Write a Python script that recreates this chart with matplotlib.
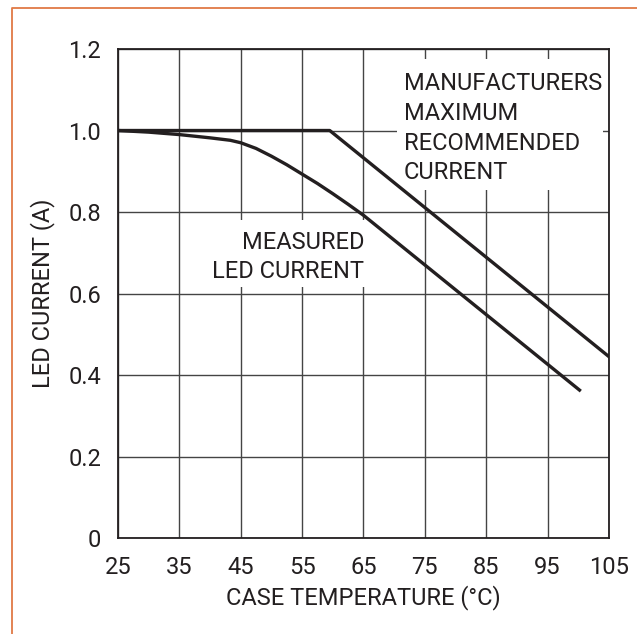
import matplotlib.pyplot as plt
from matplotlib.lines import Line2D
from matplotlib.patches import Rectangle

# case temperature (C) vs LED current (A)
max_temp = [25, 59.5, 105]
max_current = [1.0, 1.0, 0.445]

meas_temp = [25, 30, 35, 40, 43.3, 45, 47.5, 50, 52.5, 55, 57.5, 60, 62.5, 65, 100.2]
meas_current = [1.0, 0.996, 0.990, 0.982, 0.976, 0.970, 0.956, 0.937, 0.916, 0.893, 0.870, 0.845, 0.819, 0.792, 0.363]

xticks = [25, 35, 45, 55, 65, 75, 85, 95, 105]
yticks = [0, 0.2, 0.4, 0.6, 0.8, 1.0, 1.2]
ytick_labels = ['0', '0.2', '0.4', '0.6', '0.8', '1.0', '1.2']

max_label = ['MANUFACTURERS', 'MAXIMUM', 'RECOMMENDED', 'CURRENT']
meas_label = ['MEASURED', 'LED CURRENT']

plt.rcParams['font.family'] = ['Roboto', 'DejaVu Sans']
ink = '#231f20'
fs = 17

fig = plt.figure(figsize=(6.37, 6.34), dpi=100)
ax = fig.add_axes([0.1852, 0.1514, 0.956 - 0.1852, 0.9227 - 0.1514])

ax.plot(max_temp, max_current, color=ink, lw=2.4, zorder=3)
ax.plot(meas_temp, meas_current, color=ink, lw=2.4, zorder=3)

ax.set_xlim(25, 105)
ax.set_ylim(0, 1.2)
ax.set_xticks(xticks)
ax.set_yticks(yticks)
ax.set_yticklabels(ytick_labels)
ax.tick_params(length=0, labelsize=fs, colors=ink)
ax.tick_params(axis='x', pad=13)
ax.tick_params(axis='y', pad=12)
ax.grid(True, color='#444444', lw=1.0)
ax.set_axisbelow(True)
for s in ax.spines.values():
    s.set_linewidth(1.3)
    s.set_color(ink)

ax.set_xlabel('CASE TEMPERATURE (°C)', fontsize=fs, color=ink, labelpad=4)
ax.set_ylabel('LED CURRENT (A)', fontsize=fs, color=ink, labelpad=10)

# white masks behind the labels, cutting the grid
ax.add_patch(Rectangle((70.46, 0.854), 104.0 - 70.46, 1.1755 - 0.854,
                       facecolor='white', edgecolor='none', zorder=2))
ax.add_patch(Rectangle((40.3, 0.616), 65.24 - 40.3, 0.7804 - 0.616,
                       facecolor='white', edgecolor='none', zorder=2))

for i, line in enumerate(max_label):
    ax.text(71.6, 1.099 - i * 0.0729, line, fontsize=fs, color=ink,
            ha='left', va='baseline', zorder=2.5)
for i, line in enumerate(meas_label):
    ax.text(65.16, 0.7092 - i * 0.0719, line, fontsize=fs, color=ink,
            ha='right', va='baseline', zorder=2.5)

# orange frame, top and left only
fig.add_artist(Line2D([11.5 / 637, 11.5 / 637, 1], [0, 1 - 8 / 634, 1 - 8 / 634],
                      transform=fig.transFigure, color='#e07a45', lw=1.3))

fig.savefig('out.png', dpi=100)
